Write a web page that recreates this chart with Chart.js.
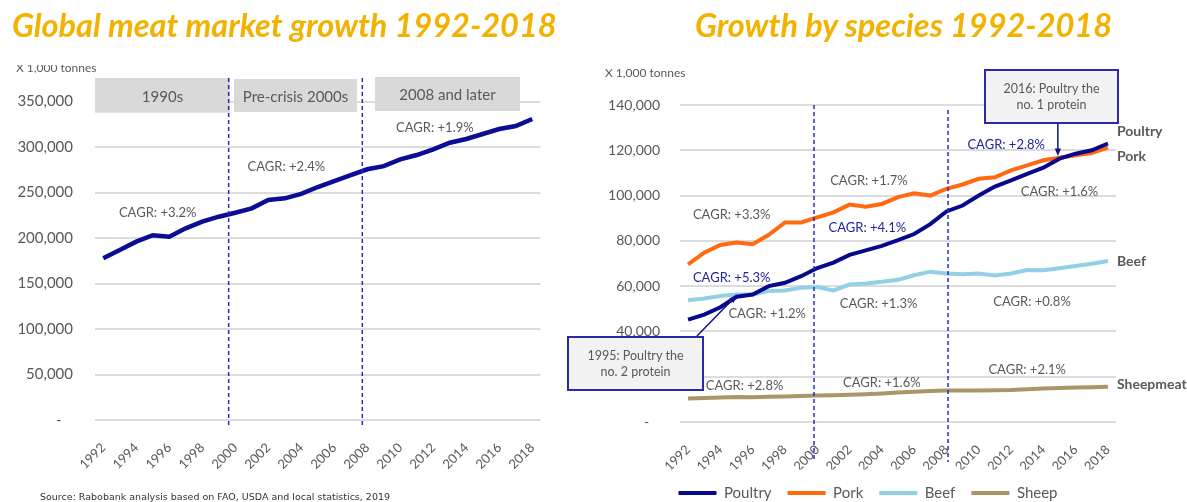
<!DOCTYPE html>
<html>
<head>
<meta charset="utf-8">
<script src="https://cdn.jsdelivr.net/npm/chart.js@4.4.0/dist/chart.umd.min.js"></script>
<style>
  body { margin: 0; width: 1187px; height: 502px; overflow: hidden; background: #fff; position: relative; font-family: Lato, sans-serif; }
  .title { position: absolute; top: 9px; font: italic bold 32.5px Lato; line-height: 1; color: #f3b200; white-space: nowrap; }
  #leftWrap { position: absolute; left: 0; top: 0; width: 560px; height: 502px; }
  #rightWrap { position: absolute; left: 560px; top: 0; width: 627px; height: 520px; }
  .unit { position: absolute; font-size: 12px; color: #595959; white-space: nowrap; }
  .clip { position: absolute; left: 16px; top: 65px; width: 120px; height: 8px; overflow: hidden; }
  .source { position: absolute; left: 40px; top: 491px; font: 9.5px "DejaVu Sans"; color: #333; white-space: nowrap; }
</style>
</head>
<body>
<div id="leftWrap"><canvas id="leftChart" width="560" height="502"></canvas></div>
<div id="rightWrap"><canvas id="rightChart" width="627" height="520"></canvas></div>
<div class="title" style="left:12px">Global meat market growth 1992-2018</div>
<div class="title" style="left:695px">Growth by species 1992-2018</div>
<div class="clip"><div class="unit" style="left:0; top:-5px">X 1,000 tonnes</div></div>
<div class="unit" style="left:605px; top:65px">X 1,000 tonnes</div>
<div class="source">Source: Rabobank analysis based on FAO, USDA and local statistics, 2019</div>

<script>
// ---- data (x 1,000 tonnes) ----
const years = ['1992','1993','1994','1995','1996','1997','1998','1999','2000','2001','2002','2003','2004','2005',
               '2006','2007','2008','2009','2010','2011','2012','2013','2014','2015','2016','2017','2018'];

const totalMeat = [177700, 186800, 196000, 203000, 201400, 210600, 218000, 223400, 227800, 232600, 241800, 243600, 248500, 256000,
                   262600, 269200, 275500, 279000, 286400, 291200, 297400, 304700, 308800, 314300, 319800, 323000, 330800];

const poultry = [45200, 47400, 50700, 55300, 56300, 60000, 61500, 64400, 68000, 70400, 73800, 75800, 77800, 80300,
                 83000, 87400, 93000, 95600, 100000, 104000, 106700, 109600, 112300, 116300, 118500, 120000, 123000];
const pork    = [69600, 74800, 78200, 79300, 78500, 82700, 88100, 88100, 90400, 92600, 96000, 95100, 96300, 99300,
                 101000, 100000, 103000, 104900, 107400, 108100, 111100, 113300, 115600, 116700, 117800, 118800, 121200];
const beef    = [53800, 54500, 55600, 56300, 56300, 57800, 58100, 59300, 59600, 58100, 60700, 61200, 61900, 62800,
                 64800, 66400, 65600, 65200, 65600, 64700, 65600, 67100, 67000, 67900, 68900, 69900, 71100];
const sheep   = [10400, 10600, 10800, 11000, 10900, 11100, 11300, 11500, 11700, 11800, 12000, 12300, 12600, 13000,
                 13400, 13700, 13900, 13900, 13900, 14000, 14100, 14500, 14800, 15000, 15200, 15400, 15600];

const periods = ['1990s', 'Pre-crisis 2000s', '2008 and later'];
const totalCagr = ['CAGR: +3.2%', 'CAGR: +2.4%', 'CAGR: +1.9%'];

// ---- annotation placement ----
const GREY = '#595959', NAVY = '#22229a', DASH = '#2828c8';
const leftDividers = [1999.6, 2007.7];
const rightDividers = [1999.8, 2008.1];
const headerBoxes = [[95, 78, 230, 112.7], [234, 79, 357, 112], [375, 77, 520, 111]];
const leftNotes = [[1995.3, 227500], [2003.1, 278000], [2012.1, 320900]];
const rightNotes = [
  ['CAGR: +3.3%', 1994.7, 91600, GREY], ['CAGR: +1.7%', 2003.2, 106700, GREY], ['CAGR: +1.6%', 2015.0, 101800, GREY],
  ['CAGR: +5.3%', 1994.7, 63700, NAVY], ['CAGR: +4.1%', 2003.1, 85800, NAVY], ['CAGR: +2.8%', 2011.7, 122200, NAVY],
  ['CAGR: +1.2%', 1996.9, 47600, GREY], ['CAGR: +1.3%', 2003.8, 52400, GREY], ['CAGR: +0.8%', 2013.3, 53300, GREY],
  ['CAGR: +2.8%', 1995.5, 16000, GREY], ['CAGR: +1.6%', 2004.0, 17300, GREY], ['CAGR: +2.1%', 2013.0, 23100, GREY]
];
const endLabels = [['Poultry', -12.5], ['Pork', 9], ['Beef', 0], ['Sheepmeat', -2]];

function yearPx(scale, yr) { return scale.getPixelForValue(yr - 1992); }

function arrow(ctx, x1, y1, x2, y2) {
  const a = Math.atan2(y2 - y1, x2 - x1), h = 8;
  ctx.beginPath(); ctx.moveTo(x1, y1); ctx.lineTo(x2 - Math.cos(a) * h * 0.8, y2 - Math.sin(a) * h * 0.8); ctx.stroke();
  ctx.beginPath();
  ctx.moveTo(x2, y2);
  ctx.lineTo(x2 - h * Math.cos(a - 0.4), y2 - h * Math.sin(a - 0.4));
  ctx.lineTo(x2 - h * Math.cos(a + 0.4), y2 - h * Math.sin(a + 0.4));
  ctx.closePath(); ctx.fill();
}

function noteBox(ctx, x1, y1, x2, y2, lines) {
  ctx.fillStyle = '#f2f2f2';
  ctx.fillRect(x1, y1, x2 - x1, y2 - y1);
  ctx.strokeStyle = '#2a2aa8'; ctx.lineWidth = 2;
  ctx.strokeRect(x1, y1, x2 - x1, y2 - y1);
  ctx.fillStyle = GREY; ctx.font = '12.5px Lato'; ctx.textAlign = 'center'; ctx.textBaseline = 'middle';
  const cy = (y1 + y2) / 2;
  ctx.fillText(lines[0], (x1 + x2) / 2, cy - 8);
  ctx.fillText(lines[1], (x1 + x2) / 2, cy + 8);
}

const leftDecor = {
  id: 'leftDecor',
  afterDatasetsDraw(chart) {
    const {ctx, chartArea, scales: {x, y}} = chart;
    ctx.save();
    ctx.textAlign = 'center'; ctx.textBaseline = 'middle';
    headerBoxes.forEach((b, i) => {
      ctx.fillStyle = '#d9d9d9';
      ctx.fillRect(b[0], b[1], b[2] - b[0], b[3] - b[1]);
      ctx.fillStyle = GREY; ctx.font = '15px Lato';
      ctx.fillText(periods[i], (b[0] + b[2]) / 2, (b[1] + b[3]) / 2 + 1.5);
    });
    ctx.strokeStyle = DASH; ctx.lineWidth = 1.5; ctx.setLineDash([4, 3]);
    leftDividers.forEach(d => {
      const px = yearPx(x, d);
      ctx.beginPath(); ctx.moveTo(px, 78); ctx.lineTo(px, chartArea.bottom + 5); ctx.stroke();
    });
    ctx.setLineDash([]);
    ctx.fillStyle = GREY; ctx.font = '13px Lato';
    leftNotes.forEach((n, i) => ctx.fillText(totalCagr[i], yearPx(x, n[0]), y.getPixelForValue(n[1])));
    ctx.restore();
  }
};

const rightDecor = {
  id: 'rightDecor',
  afterLayout(chart) {
    // nudge the legend so it sits under the plot like the original
    chart.legend.left += 30; chart.legend.right += 30;
  },
  afterDatasetsDraw(chart) {
    const {ctx, chartArea, scales: {x, y}} = chart;
    ctx.save();
    ctx.strokeStyle = DASH; ctx.lineWidth = 1.5; ctx.setLineDash([4, 3]);
    rightDividers.forEach((d, i) => {
      const px = yearPx(x, d);
      ctx.beginPath(); ctx.moveTo(px, chartArea.top + i * 5); ctx.lineTo(px, chartArea.bottom + 40); ctx.stroke();
    });
    ctx.setLineDash([]);
    ctx.textAlign = 'center'; ctx.textBaseline = 'middle'; ctx.font = '13px Lato';
    rightNotes.forEach(n => { ctx.fillStyle = n[3]; ctx.fillText(n[0], yearPx(x, n[1]), y.getPixelForValue(n[2])); });
    // series names at the line ends
    ctx.textAlign = 'left'; ctx.fillStyle = GREY; ctx.font = 'bold 14px Lato';
    const last = years.length - 1;
    chart.data.datasets.forEach((ds, i) => {
      ctx.fillText(endLabels[i][0], x.getPixelForValue(last) + 9, y.getPixelForValue(ds.data[last]) + endLabels[i][1]);
    });
    // call-outs
    const off = 560;
    noteBox(ctx, 985 - off, 70, 1118 - off, 123, ['2016: Poultry the', 'no. 1 protein']);
    noteBox(ctx, 568 - off, 337, 703 - off, 390, ['1995: Poultry the', 'no. 2 protein']);
    ctx.strokeStyle = '#101088'; ctx.fillStyle = '#101088'; ctx.lineWidth = 1.5;
    const ax = yearPx(x, 2014.9);
    arrow(ctx, ax, 124, ax, y.getPixelForValue(117500));
    arrow(ctx, 697 - off, 336, yearPx(x, 1995), y.getPixelForValue(55900));
    ctx.restore();
  }
};

const tickFont = {family: 'Lato', size: 13};
const xAxis = (h) => ({
  offset: true,
  grid: {display: false},
  border: {display: false},
  ticks: {
    color: GREY, font: tickFont, autoSkip: false, minRotation: 45, maxRotation: 45, padding: 12,
    callback: (v, i) => (i % 2 === 0 ? years[i] : '')
  },
  afterFit: s => { s.height = h; }
});
const yAxis = (max, step, w, pad, size) => ({
  min: 0, max: max,
  grid: {color: '#dcdcdc', lineWidth: 2, drawTicks: false},
  border: {display: false},
  ticks: {
    stepSize: step, color: GREY, font: {family: 'Lato', size: size}, padding: pad,
    callback: v => (v === 0 ? '-   ' : v.toLocaleString('en-US'))
  },
  afterFit: s => { s.width = w; }
});

new Chart(document.getElementById('leftChart'), {
  type: 'line',
  data: {
    labels: years,
    datasets: [{label: 'Total', data: totalMeat, borderColor: '#0c0c94', borderWidth: 4.5, pointRadius: 0, tension: 0}]
  },
  options: {
    responsive: false, animation: false, events: [],
    layout: {padding: {left: 0, top: 101.5, right: 19.5, bottom: 22}},
    plugins: {legend: {display: false}, tooltip: {enabled: false}},
    scales: {x: xAxis(60), y: yAxis(350000, 50000, 95, 22, 15)}
  },
  plugins: [leftDecor]
});

const lineSet = (label, data, color) => ({label, data, borderColor: color, backgroundColor: color, borderWidth: 4, pointRadius: 0, tension: 0});

new Chart(document.getElementById('rightChart'), {
  type: 'line',
  data: {
    labels: years,
    datasets: [
      lineSet('Poultry', poultry, '#08088c'),
      lineSet('Pork', pork, '#ff6a10'),
      lineSet('Beef', beef, '#93cfe6'),
      lineSet('Sheep', sheep, '#a8956a')
    ]
  },
  options: {
    responsive: false, animation: false, events: [],
    layout: {padding: {left: 0, top: 105, right: 71, bottom: 9.5}},
    plugins: {
      tooltip: {enabled: false},
      legend: {
        position: 'bottom',
        labels: {usePointStyle: true, pointStyle: 'line', pointStyleWidth: 38, padding: 16, color: GREY, font: {family: 'Lato', size: 15}}
      }
    },
    scales: {x: xAxis(47.5), y: yAxis(140000, 20000, 120, 20, 14)}
  },
  plugins: [rightDecor]
});
</script>
</body>
</html>
